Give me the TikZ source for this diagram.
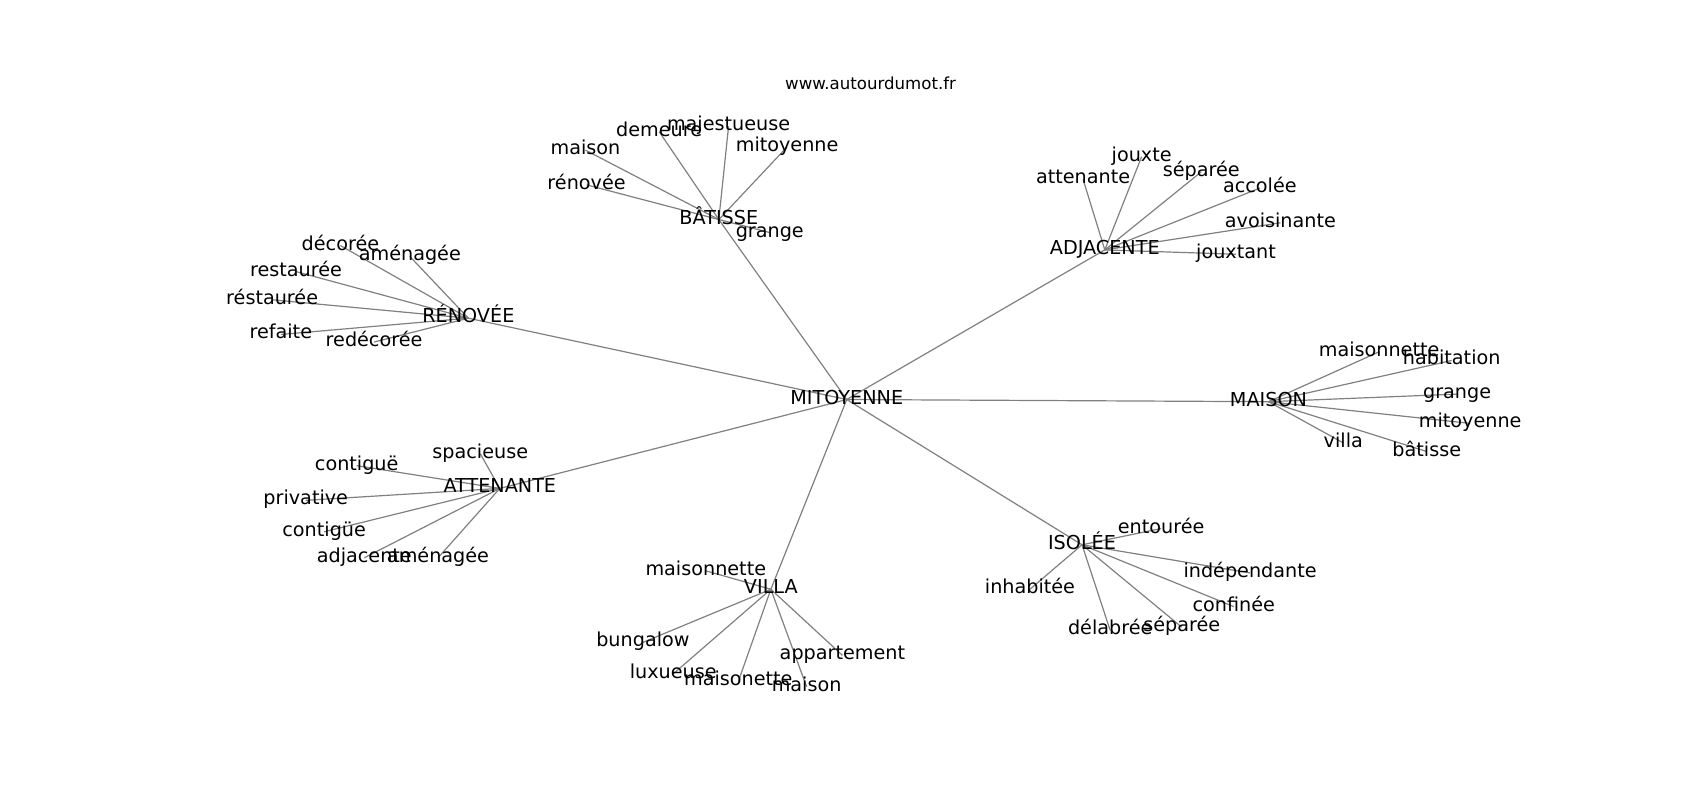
\documentclass[tikz,border=0pt]{standalone}
\usepackage{fontspec}
\setmainfont{DejaVu Sans}
\usetikzlibrary{positioning}
\tikzset{
  word/.style={inner sep=0pt,text height=0.73em,text depth=0.28em,font=\fontsize{9.6}{11}\selectfont},
  hub/.style={word},
  site/.style={inner sep=0pt,text height=0.73em,text depth=0pt,font=\fontsize{8.3}{10}\selectfont},
  link/.style={draw=gray,line width=0.6pt},
}
\pgfdeclarelayer{back}
\pgfsetlayers{back,main}

\begin{document}
\begin{tikzpicture}[x=0.5421pt,y=-0.5421pt]
  \useasboundingbox (0,0) rectangle (1568,738);
  \node[site] (URL) at (803,76) {www.autourdumot.fr};
  \begin{scope}[shift={(0,2.5)}]
  % centre
  \node[hub] (MIT) at (781,366) {MITOYENNE};
  % hubs
  \node[hub] (BAT) at (663,200) {BÂTISSE};
  \node[hub] (ADJ) at (1019,228) {ADJACENTE};
  \node[hub] (REN) at (432,291) {RÉNOVÉE};
  \node[hub] (MAI) at (1170,368) {MAISON};
  \node[hub] (ATT) at (461,448) {ATTENANTE};
  \node[hub] (VIL) at (711,541) {VILLA};
  \node[hub] (ISO) at (998,500) {ISOLÉE};
  % bâtisse
  \node[word] (BAT1) at (540,136) {maison};
  \node[word] (BAT2) at (608,119) {demeure};
  \node[word] (BAT3) at (672,114) {majestueuse};
  \node[word] (BAT4) at (726,133) {mitoyenne};
  \node[word] (BAT5) at (541,168) {rénovée};
  \node[word] (BAT6) at (710,212) {grange};
  % adjacente
  \node[word] (ADJ1) at (999,163) {attenante};
  \node[word] (ADJ2) at (1053,142) {jouxte};
  \node[word] (ADJ3) at (1108,156) {séparée};
  \node[word] (ADJ4) at (1162,171) {accolée};
  \node[word] (ADJ5) at (1181,203) {avoisinante};
  \node[word] (ADJ6) at (1140,232) {jouxtant};
  % rénovée
  \node[word] (REN1) at (314,224) {décorée};
  \node[word] (REN2) at (378,234) {aménagée};
  \node[word] (REN3) at (273,248) {restaurée};
  \node[word] (REN4) at (251,274) {réstaurée};
  \node[word] (REN5) at (259,306) {refaite};
  \node[word] (REN6) at (345,313) {redécorée};
  % maison
  \node[word] (MAI1) at (1272,322) {maisonnette};
  \node[word] (MAI2) at (1339,330) {habitation};
  \node[word] (MAI3) at (1344,361) {grange};
  \node[word] (MAI4) at (1356,388) {mitoyenne};
  \node[word] (MAI5) at (1239,406) {villa};
  \node[word] (MAI6) at (1316,414) {bâtisse};
  % attenante
  \node[word] (ATT1) at (443,416) {spacieuse};
  \node[word] (ATT2) at (329,427) {contiguë};
  \node[word] (ATT3) at (282,459) {privative};
  \node[word] (ATT4) at (299,488) {contigüe};
  \node[word] (ATT5) at (336,512) {adjacente};
  \node[word] (ATT6) at (404,512) {aménagée};
  % villa
  \node[word] (VIL1) at (651,524) {maisonnette};
  \node[word] (VIL2) at (593,590) {bungalow};
  \node[word] (VIL3) at (621,619) {luxueuse};
  \node[word] (VIL4) at (681,626) {maisonette};
  \node[word] (VIL5) at (744,631) {maison};
  \node[word] (VIL6) at (777,602) {appartement};
  % isolée
  \node[word] (ISO1) at (1071,485) {entourée};
  \node[word] (ISO2) at (1153,526) {indépendante};
  \node[word] (ISO3) at (1138,557) {confinée};
  \node[word] (ISO4) at (1090,576) {séparée};
  \node[word] (ISO5) at (1024,579) {délabrée};
  \node[word] (ISO6) at (950,541) {inhabitée};
  \end{scope}
  \begin{pgfonlayer}{back}
    \draw (MIT.center) edge[link] (BAT.center) edge[link] (ADJ.center)
      edge[link] (REN.center) edge[link] (MAI.center) edge[link] (ATT.center)
      edge[link] (VIL.center) edge[link] (ISO.center);
    \draw (BAT.center) edge[link] (BAT1.center) edge[link] (BAT2.center) edge[link] (BAT3.center)
      edge[link] (BAT4.center) edge[link] (BAT5.center) edge[link] (BAT6.center);
    \draw (ADJ.center) edge[link] (ADJ1.center) edge[link] (ADJ2.center) edge[link] (ADJ3.center)
      edge[link] (ADJ4.center) edge[link] (ADJ5.center) edge[link] (ADJ6.center);
    \draw (REN.center) edge[link] (REN1.center) edge[link] (REN2.center) edge[link] (REN3.center)
      edge[link] (REN4.center) edge[link] (REN5.center) edge[link] (REN6.center);
    \draw (MAI.center) edge[link] (MAI1.center) edge[link] (MAI2.center) edge[link] (MAI3.center)
      edge[link] (MAI4.center) edge[link] (MAI5.center) edge[link] (MAI6.center);
    \draw (ATT.center) edge[link] (ATT1.center) edge[link] (ATT2.center) edge[link] (ATT3.center)
      edge[link] (ATT4.center) edge[link] (ATT5.center) edge[link] (ATT6.center);
    \draw (VIL.center) edge[link] (VIL1.center) edge[link] (VIL2.center) edge[link] (VIL3.center)
      edge[link] (VIL4.center) edge[link] (VIL5.center) edge[link] (VIL6.center);
    \draw (ISO.center) edge[link] (ISO1.center) edge[link] (ISO2.center) edge[link] (ISO3.center)
      edge[link] (ISO4.center) edge[link] (ISO5.center) edge[link] (ISO6.center);
  \end{pgfonlayer}
\end{tikzpicture}
\end{document}
